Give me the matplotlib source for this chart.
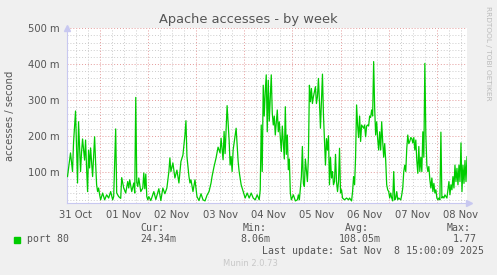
import matplotlib
matplotlib.use('Agg')
import matplotlib.pyplot as plt
import matplotlib.dates as mdates
import numpy as np
import pandas as pd

W, H = 497, 275

# 30-minute steps since the start of the window, and accesses/second (in milli)
start = pd.Timestamp('2025-10-31 07:30')
end = pd.Timestamp('2025-11-08 15:00')
steps = [1, 4, 6, 7, 9, 11, 12, 13, 14, 15, 16, 18, 19, 20, 21, 22, 23, 24, 25, 26,
         28, 29, 30, 31, 32, 33, 34, 36, 38, 40, 42, 44, 46, 47, 49, 50, 52, 54, 55, 57,
         59, 61, 62, 63, 65, 67, 68, 69, 70, 71, 72, 74, 76, 77, 78, 79, 80, 81, 82, 84,
         87, 89, 92, 94, 96, 98, 100, 102, 103, 104, 106, 108, 110, 112, 114, 116, 118, 119, 120, 122,
         123, 124, 126, 128, 130, 132, 134, 136, 138, 140, 142, 144, 145, 147, 149, 151, 153, 154, 156, 157,
         158, 160, 162, 163, 164, 165, 166, 169, 171, 172, 174, 176, 178, 180, 182, 184, 186, 188, 190, 192,
         193, 194, 195, 196, 197, 198, 199, 200, 201, 202, 204, 205, 206, 207, 208, 209, 210, 211, 212, 213,
         214, 215, 217, 218, 219, 220, 221, 222, 223, 224, 226, 228, 230, 231, 232, 234, 235, 236, 237, 238,
         240, 241, 242, 243, 244, 245, 246, 248, 249, 250, 251, 252, 253, 255, 256, 257, 258, 259, 260, 261,
         262, 263, 264, 265, 266, 267, 268, 269, 270, 271, 272, 273, 274, 275, 277, 279, 281, 282, 284, 285,
         286, 287, 288, 289, 290, 291, 292, 293, 294, 296, 297, 298, 299, 300, 301, 302, 303, 304, 305, 306,
         307, 308, 309, 310, 311, 312, 313, 314, 315, 316, 317, 318, 319, 320, 321, 322, 323, 324, 325, 326,
         327, 328, 329, 330, 331, 333, 334, 335, 336, 337, 338, 339, 340, 341, 342, 343, 344, 345, 346, 347,
         348, 349, 350, 351, 352, 353, 354, 355, 356, 357, 358, 359, 360, 361, 362, 363, 364, 365, 366, 367,
         368, 369, 370, 371, 372, 373, 374, 375, 376, 377, 379, 380, 381, 382, 383, 384, 385, 386, 387, 388,
         389, 390, 391, 392, 393, 394, 395, 396, 397, 398, 399, 400]
accesses = [86, 152, 100, 180, 269, 68, 239, 170, 100, 155, 191, 132, 188, 110, 44, 160, 110, 166, 124, 86,
            197, 124, 63, 44, 54, 35, 21, 40, 21, 35, 26, 44, 21, 30, 219, 40, 30, 25, 83, 54,
            40, 72, 54, 77, 44, 68, 40, 307, 70, 58, 82, 44, 54, 96, 52, 93, 30, 21, 30, 19,
            44, 22, 52, 19, 54, 38, 54, 100, 138, 100, 124, 82, 104, 68, 128, 146, 202, 242, 142, 86,
            68, 77, 44, 77, 30, 19, 38, 21, 18, 34, 44, 68, 86, 114, 138, 168, 152, 193, 133, 212,
            150, 284, 188, 118, 142, 100, 160, 221, 128, 100, 63, 44, 26, 40, 26, 40, 26, 21, 35, 21,
            49, 230, 100, 341, 255, 323, 370, 211, 355, 241, 370, 263, 230, 255, 202, 239, 272, 211, 239, 195,
            156, 227, 135, 281, 148, 202, 105, 135, 40, 21, 35, 18, 21, 35, 21, 86, 170, 67, 58, 135,
            72, 140, 341, 295, 332, 290, 309, 337, 290, 309, 360, 295, 221, 372, 258, 184, 118, 192, 160, 200,
            63, 140, 82, 100, 63, 72, 148, 72, 44, 72, 165, 40, 49, 26, 21, 26, 21, 26, 18, 44,
            86, 63, 140, 286, 230, 195, 255, 184, 230, 221, 230, 197, 227, 230, 227, 255, 251, 272, 255, 407,
            277, 202, 239, 192, 160, 211, 160, 239, 184, 140, 178, 131, 63, 49, 44, 26, 40, 26, 18, 100,
            21, 26, 44, 21, 26, 21, 35, 54, 100, 118, 100, 165, 202, 178, 184, 195, 192, 180, 195, 160,
            188, 131, 95, 170, 100, 140, 100, 211, 140, 402, 202, 118, 100, 114, 77, 54, 82, 44, 67, 40,
            49, 26, 21, 26, 21, 210, 26, 30, 26, 35, 26, 49, 72, 35, 63, 49, 86, 54, 118, 72,
            109, 63, 118, 72, 180, 44, 118, 67, 131, 72, 142, 125]

y_labels = ['100 m', '200 m', '300 m', '400 m', '500 m']
y_ticks = [100, 200, 300, 400, 500]
cur, vmin, avg, vmax = '24.34m', '8.06m', '108.05m', '1.77'

times = start + pd.to_timedelta(np.array(steps) * 30, unit='min')

fig = plt.figure(figsize=(W / 100, H / 100), dpi=100, facecolor='#F0F0F0')
ax = fig.add_axes([66.5 / W, 1 - 202.7 / H, 400.5 / W, 174.4 / H])
ax.set_facecolor('white')
ax.set_xlim(start, end)
ax.set_ylim(13, 500)

# grid lines, munin style
for v in range(20, 501, 20):
    if v % 100:
        ax.axhline(v, color='#CCCCCC', lw=0.7, ls=(0, (1, 2)), zorder=1)
for d in pd.date_range('2025-10-31', '2025-11-08 18:00', freq='6h'):
    if d.hour:
        ax.axvline(d, color='#CCCCCC', lw=0.7, ls=(0, (1, 2)), zorder=1)
for v in y_ticks:
    ax.axhline(v, color='#E49A9A', lw=0.7, ls=(0, (1, 2)), zorder=2)
for d in pd.date_range('2025-11-01', '2025-11-08', freq='D'):
    ax.axvline(d, color='#E49A9A', lw=0.7, ls=(0, (1, 2)), zorder=2)

ax.plot(times, accesses, color='#00CC00', lw=0.9, zorder=3)

for s in ['top', 'right']:
    ax.spines[s].set_visible(False)
for s in ['left', 'bottom']:
    ax.spines[s].set_color('#C8C8F0')
    ax.spines[s].set_linewidth(0.8)
ax.plot([start], [500], marker='^', color='#C8C8F0', ms=4, clip_on=False, zorder=4)
ax.plot([end + pd.Timedelta('1h')], [13], marker='>', color='#C8C8F0', ms=4, clip_on=False, zorder=4)

ax.set_yticks(y_ticks)
ax.set_yticklabels(y_labels)
noons = pd.date_range('2025-10-31 12:00', '2025-11-08 12:00', freq='D')
ax.set_xticks(noons)
ax.xaxis.set_major_formatter(mdates.DateFormatter('%d %b'))
ax.tick_params(length=0, labelsize=7.2, colors='#555555', pad=5)

fig.text(248 / W, 1 - 20 / H, 'Apache accesses - by week', ha='center', va='center',
         fontsize=9.4, color='#555555')
fig.text(10 / W, 1 - 116 / H, 'accesses / second', rotation=90, ha='center', va='center',
         fontsize=7.2, color='#555555')
fig.text(488 / W, 1 - 6 / H, 'RRDTOOL / TOBI OETIKER', rotation=270, ha='center', va='top',
         fontsize=5.3, color='#BBBBBB')

mono = dict(family='DejaVu Sans Mono', fontsize=7.1, color='#555555', va='center')
fig.patches.append(plt.Rectangle((14 / W, 1 - 242.5 / H), 6 / W, 6 / H, color='#00CC00',
                                 transform=fig.transFigure))
fig.text(27 / W, 1 - 239.5 / H, 'port 80', **mono)
fig.text(140 / W, 1 - 228 / H, 'Cur:', **mono)
fig.text(140 / W, 1 - 239.5 / H, cur, **mono)
fig.text(243 / W, 1 - 228 / H, 'Min:', **mono)
fig.text(240 / W, 1 - 239.5 / H, vmin, **mono)
fig.text(345 / W, 1 - 228 / H, 'Avg:', **mono)
fig.text(339 / W, 1 - 239.5 / H, avg, **mono)
fig.text(447 / W, 1 - 228 / H, 'Max:', **mono)
fig.text(453 / W, 1 - 239.5 / H, vmax, **mono)
fig.text(262 / W, 1 - 251 / H, 'Last update: Sat Nov  8 15:00:09 2025', **mono)
fig.text(223 / W, 1 - 263 / H, 'Munin 2.0.73', family='DejaVu Sans', fontsize=6,
         color='#C8C8C8', va='center')

fig.savefig('out.png', dpi=100, facecolor=fig.get_facecolor())
